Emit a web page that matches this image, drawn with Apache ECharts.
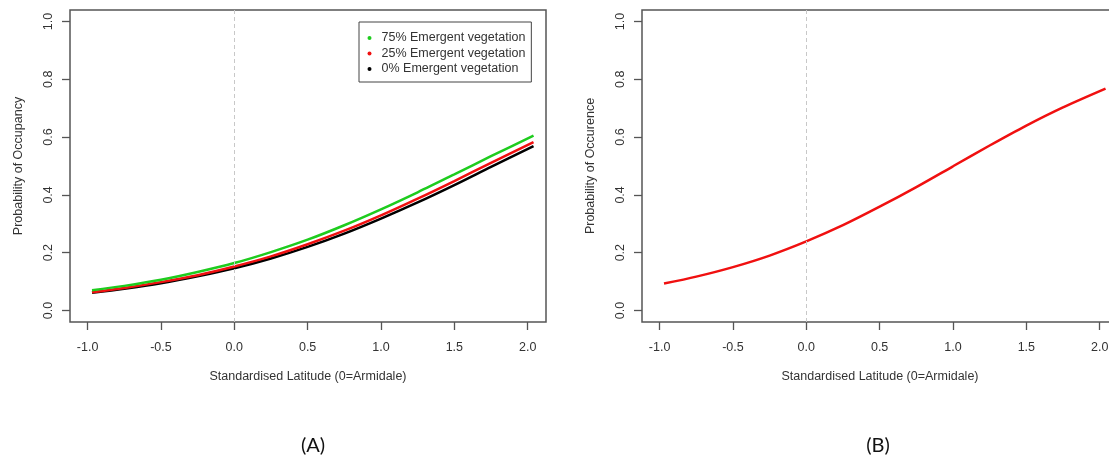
<!DOCTYPE html>
<html>
<head>
<meta charset="utf-8">
<script src="https://cdn.jsdelivr.net/npm/echarts@6/dist/echarts.min.js"></script>
<style>
  html, body { margin: 0; padding: 0; background: #fff; }
  #chart { width: 1109px; height: 461px; }
</style>
</head>
<body>
<div id="chart"></div>
<script>
// Standardised latitude values at which the fitted curves are evaluated
const latitude = [-0.97, -0.75, -0.5, -0.25, 0, 0.25, 0.5, 0.75, 1, 1.25, 1.5, 1.75, 2.04];

// (A) probability of occupancy by emergent vegetation cover
const occ75 = [0.070, 0.085, 0.106, 0.133, 0.164, 0.202, 0.245, 0.295, 0.350, 0.409, 0.471, 0.534, 0.605];
const occ25 = [0.063, 0.078, 0.098, 0.122, 0.152, 0.187, 0.229, 0.276, 0.329, 0.387, 0.448, 0.511, 0.583];
const occ0  = [0.061, 0.075, 0.094, 0.118, 0.146, 0.180, 0.220, 0.266, 0.318, 0.374, 0.434, 0.497, 0.569];

// (B) probability of occurrence
const occB  = [0.093, 0.117, 0.150, 0.190, 0.239, 0.295, 0.359, 0.427, 0.499, 0.571, 0.640, 0.703, 0.768];

const xTicks = [-1.0, -0.5, 0.0, 0.5, 1.0, 1.5, 2.0];
const yTicks = [0.0, 0.2, 0.4, 0.6, 0.8, 1.0];

const seriesNames = ['75% Emergent vegetation', '25% Emergent vegetation', '0% Emergent vegetation'];
const panelLabels = ['(A)', '(B)'];
const xTitle = 'Standardised Latitude (0=Armidale)';
const yTitles = ['Probability of Occupancy', 'Probability of Occurence'];

const FONT = 'Liberation Sans, Arial, sans-serif';
const AXIS_COLOR = '#555';
const TEXT_COLOR = '#333';

const pairs = ys => latitude.map((x, i) => [x, ys[i]]);

function xAxisFor(gridIndex) {
  return {
    type: 'value', gridIndex,
    min: -1.12, max: 2.125,
    name: xTitle, nameLocation: 'middle', nameGap: 48,
    nameTextStyle: { fontFamily: FONT, fontSize: 12.5, color: TEXT_COLOR },
    axisLine: { show: false, onZero: false },
    splitLine: { show: false },
    axisTick: { show: true, customValues: xTicks, length: 8, lineStyle: { color: AXIS_COLOR, width: 1.3 } },
    axisLabel: {
      customValues: xTicks, margin: 19,
      fontFamily: FONT, fontSize: 12.5, color: TEXT_COLOR,
      formatter: v => v.toFixed(1)
    }
  };
}

function yAxisFor(gridIndex) {
  return {
    type: 'value', gridIndex,
    min: -0.04, max: 1.04,
    name: yTitles[gridIndex], nameLocation: 'middle', nameGap: 45, nameRotate: 90,
    nameTextStyle: { fontFamily: FONT, fontSize: 12.5, color: TEXT_COLOR },
    axisLine: { show: false, onZero: false },
    splitLine: { show: false },
    axisTick: { show: true, customValues: yTicks, length: 8, lineStyle: { color: AXIS_COLOR, width: 1.3 } },
    axisLabel: {
      customValues: yTicks, margin: 15, rotate: 90,
      fontFamily: FONT, fontSize: 12.5, color: TEXT_COLOR,
      formatter: v => v.toFixed(1)
    }
  };
}

const zeroLine = {
  silent: true,
  symbol: ['none', 'none'],
  label: { show: false },
  lineStyle: { color: '#c8c8c8', type: [4, 3], width: 1 },
  data: [{ xAxis: 0 }]
};

function curve(name, ys, color, gridIndex, withZero) {
  const s = {
    name, type: 'line',
    xAxisIndex: gridIndex, yAxisIndex: gridIndex,
    data: pairs(ys),
    smooth: 0.3,
    showSymbol: false,
    lineStyle: { color, width: 2.5 },
    itemStyle: { color },
    emphasis: { disabled: true }
  };
  if (withZero) s.markLine = zeroLine;
  return s;
}

const chart = echarts.init(document.getElementById('chart'), null, { renderer: 'canvas' });

const gridBase = {
  top: 10, width: 476, height: 312,
  outerBoundsMode: 'none', containLabel: false,
  show: true, borderColor: AXIS_COLOR, borderWidth: 1.5, backgroundColor: 'transparent'
};

chart.setOption({
  animation: false,
  backgroundColor: '#fff',
  title: [
    { text: panelLabels[0], left: 308, top: 431, textAlign: 'center',
      textStyle: { fontFamily: 'Lato, Open Sans, sans-serif', fontSize: 20, fontWeight: 'normal', color: '#111' } },
    { text: panelLabels[1], left: 873, top: 431, textAlign: 'center',
      textStyle: { fontFamily: 'Lato, Open Sans, sans-serif', fontSize: 20, fontWeight: 'normal', color: '#111' } }
  ],
  grid: [
    Object.assign({ left: 70 }, gridBase),
    // panel B runs past the right edge of the canvas
    Object.assign({ left: 642 }, gridBase)
  ],
  xAxis: [xAxisFor(0), xAxisFor(1)],
  yAxis: [yAxisFor(0), yAxisFor(1)],
  legend: {
    data: seriesNames,
    orient: 'vertical',
    left: 359, top: 22,
    padding: [9, 6, 6, 8.5],
    itemGap: 1.5,
    itemWidth: 14, itemHeight: 4,
    icon: 'circle',
    borderColor: '#444', borderWidth: 1,
    backgroundColor: '#fff',
    selectedMode: false,
    textStyle: { fontFamily: FONT, fontSize: 12.5, color: TEXT_COLOR, lineHeight: 14 }
  },
  series: [
    curve(seriesNames[2], occ0, '#000000', 0, true),
    curve(seriesNames[1], occ25, '#f01010', 0, false),
    curve(seriesNames[0], occ75, '#1ecc1e', 0, false),
    curve('Occurrence', occB, '#f01010', 1, true)
  ]
});
</script>
</body>
</html>
